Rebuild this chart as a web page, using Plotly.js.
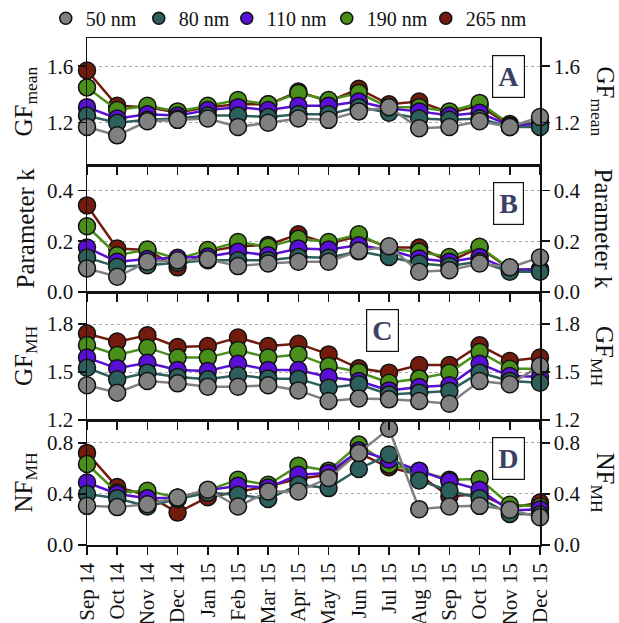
<!DOCTYPE html>
<html>
<head>
<meta charset="utf-8">
<script src="https://cdn.plot.ly/plotly-3.0.1.min.js"></script>
<style>html,body{margin:0;padding:0;background:#fff;}#chart{width:619px;height:623px;}</style>
</head>
<body>
<div id="chart"></div>
<script>
// ---- data ----
const months = ['Sep 14','Oct 14','Nov 14','Dec 14','Jan 15','Feb 15','Mar 15','Apr 15','May 15','Jun 15','Jul 15','Aug 15','Sep 15','Oct 15','Nov 15','Dec 15'];
const seriesNames = ['50 nm','80 nm','110 nm','190 nm','265 nm'];
const seriesColors = ['#808080','#2d5f5d','#5a0fd6','#4a8f1a','#731c0e'];

// Panel A: GF mean
const gfMean50  = [1.17,1.11,1.21,1.22,1.23,1.17,1.20,1.23,1.22,1.28,1.31,1.16,1.17,1.21,1.17,1.24];
const gfMean80  = [1.25,1.20,1.22,1.23,1.25,1.25,1.24,1.26,1.26,1.31,1.27,1.23,1.22,1.23,1.17,1.17];
const gfMean110 = [1.31,1.23,1.26,1.25,1.29,1.31,1.29,1.32,1.32,1.35,1.30,1.28,1.25,1.27,1.18,1.19];
const gfMean190 = [1.45,1.29,1.32,1.28,1.32,1.36,1.33,1.41,1.36,1.41,1.31,1.31,1.28,1.34,1.19,1.20];
const gfMean265 = [1.57,1.32,1.31,1.27,1.31,1.33,1.33,1.42,1.35,1.44,1.33,1.35,1.27,1.32,1.18,1.20];

// Panel B: parameter k
const k50  = [0.093,0.060,0.119,0.125,0.129,0.102,0.112,0.119,0.119,0.162,0.180,0.080,0.086,0.112,0.097,0.136];
const k80  = [0.136,0.099,0.105,0.115,0.125,0.125,0.125,0.138,0.135,0.160,0.138,0.112,0.102,0.120,0.080,0.080];
const k110 = [0.175,0.119,0.130,0.135,0.140,0.158,0.145,0.171,0.167,0.184,0.165,0.132,0.119,0.138,0.088,0.088];
const k190 = [0.259,0.145,0.167,0.130,0.165,0.197,0.178,0.210,0.197,0.227,0.170,0.158,0.138,0.178,0.092,0.085];
const k265 = [0.341,0.171,0.165,0.097,0.160,0.180,0.185,0.227,0.190,0.220,0.175,0.175,0.120,0.175,0.090,0.090];

// Panel C: GF MH
const gfMH50  = [1.417,1.371,1.444,1.429,1.408,1.408,1.417,1.385,1.319,1.335,1.329,1.319,1.302,1.444,1.423,1.538];
const gfMH80  = [1.527,1.454,1.496,1.469,1.454,1.480,1.460,1.457,1.402,1.423,1.360,1.371,1.381,1.496,1.444,1.433];
const gfMH110 = [1.590,1.523,1.558,1.512,1.506,1.552,1.512,1.512,1.469,1.444,1.385,1.406,1.417,1.552,1.475,1.470];
const gfMH190 = [1.669,1.606,1.652,1.590,1.590,1.638,1.590,1.610,1.538,1.500,1.433,1.460,1.496,1.625,1.520,1.520];
const gfMH265 = [1.740,1.690,1.729,1.656,1.662,1.715,1.662,1.677,1.610,1.523,1.496,1.544,1.544,1.667,1.569,1.590];

// Panel D: NF MH
const nfMH50  = [0.307,0.297,0.320,0.372,0.433,0.302,0.420,0.420,0.525,0.722,0.911,0.281,0.302,0.307,0.276,0.218];
const nfMH80  = [0.400,0.367,0.302,0.360,0.410,0.394,0.360,0.472,0.446,0.596,0.709,0.506,0.425,0.367,0.244,0.240];
const nfMH110 = [0.490,0.400,0.367,0.370,0.430,0.465,0.450,0.551,0.565,0.740,0.669,0.583,0.499,0.433,0.270,0.280];
const nfMH190 = [0.635,0.412,0.425,0.370,0.430,0.512,0.472,0.622,0.583,0.787,0.630,0.580,0.512,0.517,0.315,0.302];
const nfMH265 = [0.722,0.454,0.390,0.254,0.375,0.420,0.460,0.520,0.550,0.720,0.609,0.550,0.380,0.400,0.290,0.333];

const panels = [
  {xa:'x4', ya:'y4', yr:'y8', data:[gfMean50,gfMean80,gfMean110,gfMean190,gfMean265]},
  {xa:'x3', ya:'y3', yr:'y7', data:[k50,k80,k110,k190,k265]},
  {xa:'x2', ya:'y2', yr:'y6', data:[gfMH50,gfMH80,gfMH110,gfMH190,gfMH265]},
  {xa:'x',  ya:'y',  yr:'y5', data:[nfMH50,nfMH80,nfMH110,nfMH190,nfMH265]}
];

const FONT = 'Liberation Serif, Times New Roman, serif';
const traces = [];
panels.forEach(p => {
  for (let i = seriesNames.length - 1; i >= 0; i--) {
    traces.push({
      type:'scatter', mode:'lines+markers', x: months, y: p.data[i],
      xaxis: p.xa, yaxis: p.ya, name: seriesNames[i], showlegend:false,
      cliponaxis:false,
      line:{color: seriesColors[i], width:2.5},
      marker:{color: seriesColors[i], size:17, line:{color:'#111', width:1.5}}
    });
  }
  // anchor trace for right-side mirrored axis
  traces.push({type:'scatter', mode:'markers', x:[null], y:[null], xaxis:p.xa, yaxis:p.yr, showlegend:false, hoverinfo:'skip'});
});
// legend entries
const legendWidths = [48, 43, 55, 54, 60];
seriesNames.forEach((n, i) => {
  traces.push({type:'scatter', mode:'markers', x:[null], y:[null], name:n, showlegend:true,
    legendwidth: legendWidths[i],
    marker:{color: seriesColors[i], size:12, line:{color:'#111', width:1.5}}});
});

const H = 507; // plot area height px
const dom = {
  D:[0, 125/H], C:[125/H, 253/H], B:[253/H, 380/H], A:[380/H, 1]
};
const xBase = {type:'category', range:[0,15], showline:true, linecolor:'#111', linewidth:1.5, mirror:true,
  ticks:'outside', ticklen:8, tickwidth:1.5, tickcolor:'#111', showgrid:false, zeroline:false, automargin:false,
  tickfont:{family:FONT, size:21, color:'#111'}};
function yBase(domain, range, tv, side, overlay, anchor) {
  const o = {domain:domain, range:range, tickvals:tv, tickformat:'.1f', showline:true, linecolor:'#111', linewidth:1.5,
    ticks:'outside', ticklen:8, tickwidth:1.5, tickcolor:'#111', zeroline:false, automargin:false,
    tickfont:{family:FONT, size:21, color:'#111'}, showgrid: !overlay, gridcolor:'#aaaaaa', griddash:'dot', gridwidth:1,
    anchor: anchor, fixedrange:true};
  if (overlay) { o.overlaying = overlay; o.side = 'right'; delete o.domain; }
  return o;
}

const layout = {
  width:619, height:623,
  margin:{l:87, r:79, t:38, b:78, autoexpand:false},
  paper_bgcolor:'#fff', plot_bgcolor:'#fff',
  font:{family:FONT, color:'#111'},
  showlegend:true,
  legend:{orientation:'h', x:-0.091, xanchor:'left', y:1.039, yanchor:'middle',
    font:{family:FONT, size:20, color:'#111'}, bgcolor:'rgba(0,0,0,0)', itemwidth:30},
  xaxis: Object.assign({}, xBase, {anchor:'y', domain:[0,1], tickangle:-90}),
  xaxis2: Object.assign({}, xBase, {anchor:'y2', domain:[0,1], showticklabels:false, matches:'x'}),
  xaxis3: Object.assign({}, xBase, {anchor:'y3', domain:[0,1], showticklabels:false, matches:'x'}),
  xaxis4: Object.assign({}, xBase, {anchor:'y4', domain:[0,1], showticklabels:false, matches:'x'}),
  yaxis:  yBase(dom.D, [0, 0.98], [0,0.4,0.8], 'left', null, 'x'),
  yaxis2: yBase(dom.C, [1.2, 2.0], [1.2,1.5,1.8], 'left', null, 'x2'),
  yaxis3: yBase(dom.B, [0, 0.5], [0,0.2,0.4], 'left', null, 'x3'),
  yaxis4: yBase(dom.A, [0.9, 1.8], [1.2,1.6], 'left', null, 'x4'),
  yaxis5: yBase(null, [0, 0.98], [0,0.4,0.8], 'right', 'y', 'x'),
  yaxis6: yBase(null, [1.2, 2.0], [1.2,1.5,1.8], 'right', 'y2', 'x2'),
  yaxis7: yBase(null, [0, 0.5], [0,0.2,0.4], 'right', 'y3', 'x3'),
  yaxis8: yBase(null, [0.9, 1.8], [1.2,1.6], 'right', 'y4', 'x4'),
  annotations: []
};

const titles = [
  {t:'GF<sub>mean</sub>', d:dom.A},
  {t:'Parameter k', d:dom.B},
  {t:'GF<sub>MH</sub>', d:dom.C},
  {t:'NF<sub>MH</sub>', d:dom.D}
];
titles.forEach(o => {
  const yc = (o.d[0] + o.d[1]) / 2;
  layout.annotations.push({xref:'paper', yref:'paper', x:(25-87)/453, y:yc, text:o.t, showarrow:false,
    textangle:-90, font:{family:FONT, size:25, color:'#111'}, xanchor:'center', yanchor:'middle'});
  layout.annotations.push({xref:'paper', yref:'paper', x:(603-87)/453, y:yc, text:o.t, showarrow:false,
    textangle:90, font:{family:FONT, size:25, color:'#111'}, xanchor:'center', yanchor:'middle'});
});
const letters = [
  {t:'A', x:0.930, y:0.924}, {t:'B', x:0.930, y:0.673}, {t:'C', x:0.653, y:0.424}, {t:'D', x:0.930, y:0.170}
];
letters.forEach(o => {
  layout.annotations.push({xref:'paper', yref:'paper', x:o.x, y:o.y, text:'<b>'+o.t+'</b>', showarrow:false,
    font:{family:FONT, size:28, color:'#3a4162'}, bgcolor:'#fff', bordercolor:'#111', borderwidth:1.2, borderpad:5,
    xanchor:'center', yanchor:'middle'});
});

Plotly.newPlot('chart', traces, layout, {displayModeBar:false, staticPlot:true});
</script>
</body>
</html>
